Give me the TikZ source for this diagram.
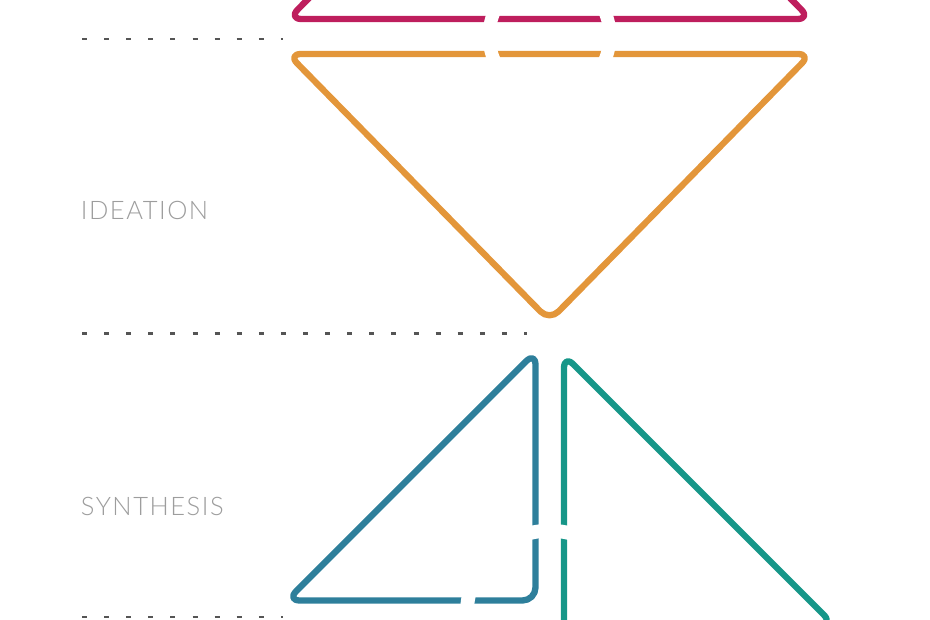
\documentclass[tikz,border=0pt]{standalone}
\usepackage{fontspec}
\newfontfamily\phasefont{Lato Light}
\definecolor{magentaline}{HTML}{BE1E5D}
\definecolor{orangeline}{HTML}{E3963A}
\definecolor{blueline}{HTML}{2E7F9B}
\definecolor{tealline}{HTML}{169688}
\definecolor{phasegray}{HTML}{9D9D9D}
\definecolor{dashgray}{HTML}{555555}
\tikzset{
  outline/.style={line width=6.3pt, rounded corners=13pt, line join=round},
  divider/.style={line width=2.6pt, dashgray, dash pattern=on 5pt off 17.1pt},
  cutring/.style={draw=white, line width=#1},
  phase/.style={anchor=base west, inner sep=0pt, text=phasegray,
    font=\phasefont\fontsize{25.5pt}{25.5pt}\selectfont\addfontfeatures{LetterSpace=6}},
}
\begin{document}
\begin{tikzpicture}[x=1pt, y=-1pt]
  \useasboundingbox (0,0) rectangle (930,620);
  \clip (0,0) rectangle (930,620);

  % phase dividers
  \draw[divider] (82,39) -- (283,39);
  \draw[divider] (82,333.5) -- (526.5,333.5);
  \draw[divider] (82,617) -- (283,617);

  % phase labels
  \node[phase] (ideation) at (80.7,220) {IDEATION};
  \node[phase] (synthesis) at (80.7,515) {SYNTHESIS};

  % upper triangles
  \draw[outline, magentaline] (288.5,19) -- (810.5,19) -- (549.5,-247.7) -- cycle;
  \draw[outline, orangeline] (288,54) -- (811,54) -- (549.5,320.7) -- cycle;

  % lower triangles
  \draw[outline, blueline] (535.5,351.9) -- (535.5,600.5) -- (286.9,600.5) -- cycle;
  \draw[outline, tealline] (564,700) -- (564,355) -- (833,624) -- (400,624);

  % white rings cutting through the outlines
  \draw[cutring=13pt] (549.5,36) circle[radius=60.4];
  \draw[cutring=13.8pt] (549.5,613.3) circle[radius=82.6];
\end{tikzpicture}
\end{document}
